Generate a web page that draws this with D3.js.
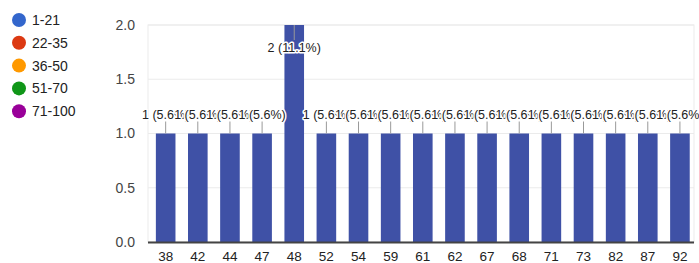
<!DOCTYPE html>
<html>
<head>
<meta charset="utf-8">
<script src="https://cdn.jsdelivr.net/npm/d3@7"></script>
<style>
  body { margin: 0; background: #fff; }
  svg { display: block; font-family: Arial, "Liberation Sans", sans-serif; }
</style>
</head>
<body>
<svg id="chart" width="699" height="263"></svg>
<script>
'use strict';

// answers (age) and how many people gave each
var ages = ['38', '42', '44', '47', '48', '52', '54', '59', '61', '62', '67', '68', '71', '73', '82', '87', '92'];
var counts = [1, 1, 1, 1, 2, 1, 1, 1, 1, 1, 1, 1, 1, 1, 1, 1, 1];
var percents = ['5.6%', '5.6%', '5.6%', '5.6%', '11.1%', '5.6%', '5.6%', '5.6%', '5.6%', '5.6%', '5.6%', '5.6%', '5.6%', '5.6%', '5.6%', '5.6%', '5.6%'];
var yTicks = [0, 0.5, 1, 1.5, 2];
var legendLabels = ['1-21', '22-35', '36-50', '51-70', '71-100'];
var legendColors = ['#3366cc', '#dc3912', '#ff9900', '#109618', '#990099'];

var barColor = '#3f51a6';
var textColor = '#222';

var svg = d3.select('#chart');
var plotLeft = 148, plotRight = 694, plotTop = 25, plotBottom = 242;

var x = d3.scaleBand()
    .domain(ages)
    .range([149.6, 696])
    .paddingInner(0.39)
    .paddingOuter(0.195);

var y = d3.scaleLinear()
    .domain([0, 2])
    .range([plotBottom, plotTop]);

var data = ages.map(function(a, i) {
    return {age: a, count: counts[i], pct: percents[i]};
});

// plot frame + gridlines
svg.append('rect')
    .attr('x', plotLeft).attr('y', plotTop)
    .attr('width', plotRight - plotLeft).attr('height', plotBottom - plotTop)
    .attr('fill', 'none').attr('stroke', '#ebebeb');

svg.append('g').selectAll('line').data(yTicks).enter()
    .append('line')
        .attr('x1', plotLeft).attr('x2', plotRight)
        .attr('y1', function(d) { return y(d); })
        .attr('y2', function(d) { return y(d); })
        .attr('stroke', '#ebebeb');

// y labels
svg.append('g').selectAll('text').data(yTicks).enter()
    .append('text')
        .attr('x', 135)
        .attr('y', function(d) { return y(d); })
        .attr('dy', '0.35em')
        .attr('text-anchor', 'end')
        .attr('font-size', 14)
        .attr('fill', '#444')
        .text(function(d) { return d.toFixed(1); });

// bars
svg.append('g').selectAll('rect').data(data).enter()
    .append('rect')
        .attr('x', function(d) { return x(d.age); })
        .attr('y', function(d) { return y(d.count); })
        .attr('width', x.bandwidth())
        .attr('height', function(d) { return y(0) - y(d.count); })
        .attr('fill', barColor);

// baseline
svg.append('line')
    .attr('x1', plotLeft).attr('x2', plotRight)
    .attr('y1', y(0) + 0.5).attr('y2', y(0) + 0.5)
    .attr('stroke', '#444').attr('stroke-width', 2);

// x labels
svg.append('g').selectAll('text').data(data).enter()
    .append('text')
        .attr('x', function(d) { return x(d.age) + x.bandwidth() / 2; })
        .attr('y', 261)
        .attr('text-anchor', 'middle')
        .attr('font-size', 13.5)
        .attr('fill', textColor)
        .text(function(d) { return d.age; });

// annotation labels: 1.0 bars sit above the bar, the 2.0 bar sits inside
function labelY(d) { return d.count >= 2 ? y(d.count) + 23 : y(d.count) - 19; }

var ann = svg.append('g');
ann.selectAll('line').data(data).enter()
    .append('line')
        .attr('x1', function(d) { return x(d.age) + x.bandwidth() / 2; })
        .attr('x2', function(d) { return x(d.age) + x.bandwidth() / 2; })
        .attr('y1', function(d) { return y(d.count); })
        .attr('y2', function(d) { return d.count >= 2 ? y(d.count) + 15 : y(d.count) - 12; })
        .attr('stroke', '#999')
        .attr('stroke-width', 1);

data.forEach(function(d) {
    var cx = x(d.age) + x.bandwidth() / 2;
    var label = d.count + ' (' + d.pct + ')';
    ann.append('text')
        .attr('x', cx).attr('y', labelY(d))
        .attr('dy', '0.35em')
        .attr('text-anchor', 'middle')
        .attr('font-size', 12.5)
        .attr('fill', 'none')
        .attr('stroke', '#fff')
        .attr('stroke-width', 3)
        .attr('stroke-linejoin', 'round')
        .text(label);
    ann.append('text')
        .attr('x', cx).attr('y', labelY(d))
        .attr('dy', '0.35em')
        .attr('text-anchor', 'middle')
        .attr('font-size', 12.5)
        .attr('fill', textColor)
        .text(label);
});

// legend
var legend = svg.append('g').selectAll('g').data(legendLabels).enter()
    .append('g')
        .attr('transform', function(d, i) { return 'translate(19,' + (20 + i * 22.8) + ')'; });
legend.append('circle')
    .attr('r', 7)
    .attr('fill', function(d, i) { return legendColors[i]; });
legend.append('text')
    .attr('x', 13)
    .attr('dy', '0.35em')
    .attr('font-size', 14)
    .attr('fill', textColor)
    .text(function(d) { return d; });
</script>
</body>
</html>
